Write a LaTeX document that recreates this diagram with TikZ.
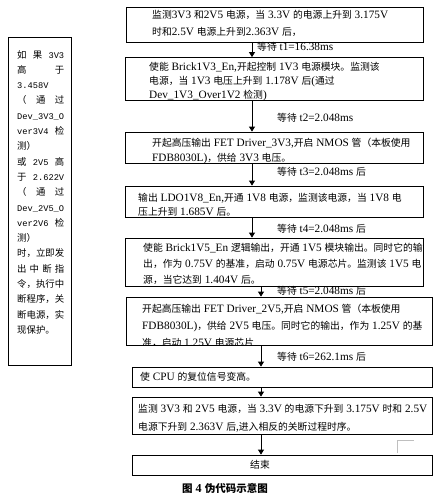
\documentclass[tikz,border=0pt]{standalone}
\usepackage{fontspec}
\setmainfont[Scale=1.15]{Liberation Serif}
\newfontfamily\cjkf{Noto Sans CJK SC}
\newfontfamily\monof[Scale=0.925]{Liberation Mono}
\usetikzlibrary{arrows.meta}
\newXeTeXintercharclass\cjkcls
\newcount\mycc
\mycc="3000\relax
\loop \XeTeXcharclass\mycc=\cjkcls\relax \advance\mycc by 1\relax \ifnum\mycc<"A000\relax \repeat
\mycc="FF00\relax
\loop \XeTeXcharclass\mycc=\cjkcls\relax \advance\mycc by 1\relax \ifnum\mycc<"FFF0\relax \repeat
\def\latf{\rmfamily}
\XeTeXinterchartoks 0 \cjkcls = {\cjkf}
\XeTeXinterchartoks 4095 \cjkcls = {\cjkf}
\XeTeXinterchartoks \cjkcls 0 = {\latf}
\XeTeXinterchartoks \cjkcls 4095 = {\latf}
\XeTeXinterchartokenstate=1\relax
\newcommand\spr[1]{\leavevmode\hbox to\hsize{#1}}
\newcommand\monolat{\def\latf{\monof}\monof}
\tikzset{
  box/.style={draw, line width=0.8pt, inner sep=0pt},
  txt/.style={anchor=north west, inner sep=0pt, align=left,
    font=\fontsize{9.8}{#1}\selectfont},
  txt/.default=15,
  lbl/.style={anchor=west, inner sep=0pt,
    font=\fontsize{9.8}{12}\selectfont},
  arr/.style={line width=0.8pt, -{Triangle[length=5pt,width=6pt]}}
}
\begin{document}
\begin{tikzpicture}[x=1pt,y=-1pt]
\useasboundingbox[fill=white] (0,0) rectangle (441,504);
% boxes
\node[box, minimum width=297pt, minimum height=35pt] (b1) at (274.5,24.5) {};
\node[box, minimum width=298pt, minimum height=43pt] (b2) at (274,79) {};
\node[box, minimum width=298pt, minimum height=31pt] (b3) at (274,147.5) {};
\node[box, minimum width=298pt, minimum height=31pt] (b4) at (274,201.5) {};
\node[box, minimum width=298pt, minimum height=48pt] (b5) at (274,262) {};
\node[box, minimum width=306pt, minimum height=48pt] (b6) at (279,321) {};
\node[box, minimum width=300pt, minimum height=20pt] (b7) at (282,377) {};
\node[box, minimum width=300pt, minimum height=37pt] (b8) at (282,415.5) {};
\node[box, minimum width=300pt, minimum height=20pt] (b9) at (282,465) {};
\node[box, minimum width=63pt, minimum height=328pt] (bl) at (39.5,201) {};
% texts
\begin{scope}\clip (b1.south west) rectangle (b1.north east);
\node[txt=17] (t1) at (152,10) {监测3V3 和2V5 电源，当 3.3V 的电源上升到 3.175V\\时和2.5V 电源上升到2.363V 后，};
\end{scope}
\begin{scope}\clip (b2.south west) rectangle (b2.north east);
\node[txt=14] (t2) at (149,62) {使能 Brick1V3\_En,开起控制 1V3 电源模块。监测该\\电源，当 1V3 电压上升到 1.178V 后(通过\\Dev\_1V3\_Over1V2 检测)};
\end{scope}
\begin{scope}\clip (b3.south west) rectangle (b3.north east);
\node[txt=15] (t3) at (152,138) {开起高压输出 FET Driver\_3V3,开启 NMOS 管（本板使用\\FDB8030L)，供给 3V3 电压。};
\end{scope}
\begin{scope}\clip (b4.south west) rectangle (b4.north east);
\node[txt=14] (t4) at (138,193.5) {输出 LDO1V8\_En,开通 1V8 电源，监测该电源，当 1V8 电\\压上升到 1.685V 后。};
\end{scope}
\begin{scope}\clip (b5.south west) rectangle (b5.north east);
\node[txt=16] (t5) at (143,243) {使能 Brick1V5\_En 逻辑输出，开通 1V5 模块输出。同时它的输\\出，作为 0.75V 的基准，启动 0.75V 电源芯片。监测该 1V5 电\\源，当它达到 1.404V 后。};
\end{scope}
\begin{scope}\clip (b6.south west) rectangle (b6.north east);
\node[txt=17] (t6) at (142,304) {开起高压输出 FET Driver\_2V5,开启 NMOS 管（本板使用\\FDB8030L)，供给 2V5 电压。同时它的输出，作为 1.25V 的基\\准，启动 1.25V 电源芯片};
\end{scope}
\node[txt] (t7) at (140,372) {使 CPU 的复位信号变高。};
\begin{scope}\clip (b8.south west) rectangle (b8.north east);
\node[txt=18] (t8) at (138,404) {监测 3V3 和 2V5 电源，当 3.3V 的电源下升到 3.175V 时和 2.5V\\电源下升到 2.363V 后,进入相反的关断过程时序。};
\end{scope}
\node[lbl, anchor=center] (t9) at (260,465) {结束};
\node[txt=15.3, text width=47pt, font=\monolat\fontsize{9.4}{15.3}\selectfont] (tl) at (17,50)
{\spr{如\hfil 果\hfil 3V3}\\
\spr{高\hfil 于}\\
3.458V\\
\spr{（\hfil 通\hfil 过}\\
Dev\_3V3\_O\\
\spr{ver3V4\hfil 检}\\
测）\\
\spr{或\hfil 2V5\hfil 高}\\
\spr{于\hfil 2.622V}\\
\spr{（\hfil 通\hfil 过}\\
Dev\_2V5\_O\\
\spr{ver2V6\hfil 检}\\
测）\\
\spr{时，立即发}\\
\spr{出\hfil 中\hfil 断\hfil 指}\\
\spr{令，执行中}\\
\spr{断程序，关}\\
\spr{断电源，实}\\
现保护。};
% connectors
\coordinate (ca) at (252,0);
\coordinate (cb) at (261,0);
\draw[arr] (b1.south -| ca) -- (b2.north -| ca);
\draw[arr] (b2.south -| ca) -- (b3.north -| ca);
\draw[arr] (b3.south -| ca) -- (b4.north -| ca);
\draw[arr] (b4.south -| ca) -- (b5.north -| ca);
\draw[arr] (b5.south -| cb) -- (b6.north -| cb);
\draw[arr] (b6.south -| cb) -- (b7.north -| cb);
\draw[arr] (b7.south -| cb) -- (b8.north -| cb);
\draw[arr] (b8.south -| cb) -- (b9.north -| cb);
% labels
\node[lbl] (l1) at (257,47) {等待 t1=16.38ms};
\node[lbl] (l2) at (277,118) {等待 t2=2.048ms};
\node[lbl] (l3) at (277,172) {等待 t3=2.048ms 后};
\node[lbl] (l4) at (277,229) {等待 t4=2.048ms 后};
\node[lbl] (l5) at (277,291) {等待 t5=2.048ms 后};
\node[lbl] (l6) at (277,357) {等待 t6=262.1ms 后};
\node[lbl, anchor=center, font=\fontsize{10.5}{12}\selectfont\bfseries] (cap) at (225,488) {图 4 伪代码示意图};
% grey mark
\draw[gray!50, line width=0.6pt] (397,453) -- (397,440) -- (414,440);
\end{tikzpicture}
\end{document}
